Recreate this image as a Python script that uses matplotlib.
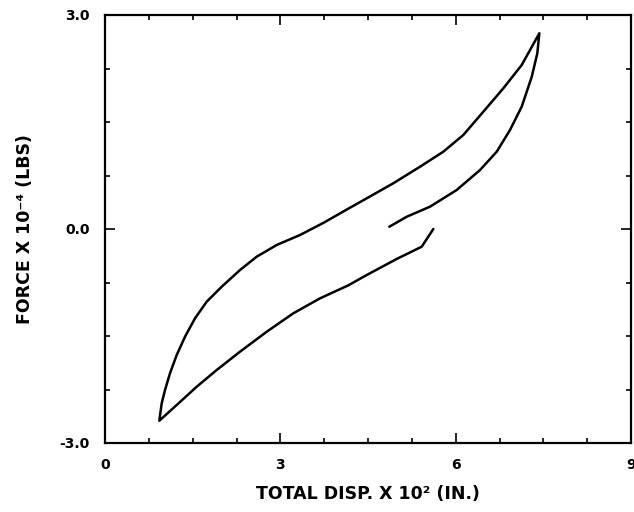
import matplotlib
matplotlib.use("Agg")
import matplotlib.pyplot as plt
from matplotlib.ticker import MultipleLocator, FixedLocator, FixedFormatter

plt.rcParams['axes.unicode_minus'] = False
plt.rcParams['font.family'] = ['DejaVu Sans']

# Hysteresis loop: total displacement (x 10^2 in.) vs force (x 10^-4 lbs)
disp = [5.618, 5.419, 4.991, 4.478, 4.163, 3.679, 3.222, 2.767, 2.310, 1.911,
        1.569, 1.227, 0.929,
        0.970, 1.027, 1.112, 1.227, 1.369, 1.540, 1.740, 1.997, 2.310, 2.596,
        2.938, 3.337, 3.735, 4.163, 4.478, 4.933, 5.390, 5.789, 6.131, 6.473,
        6.816, 7.130, 7.432,
        7.397, 7.302, 7.130, 6.930, 6.703, 6.417, 6.018, 5.561, 5.163, 4.865]
force = [0.000, -0.248, -0.420, -0.645, -0.790, -0.972, -1.182, -1.440, -1.720, -1.977,
         -2.211, -2.467, -2.688,
         -2.444, -2.257, -2.023, -1.766, -1.510, -1.252, -1.019, -0.809, -0.575, -0.388,
         -0.224, -0.084, 0.085, 0.285, 0.430, 0.641, 0.873, 1.084, 1.318, 1.644,
         1.973, 2.299, 2.744,
         2.463, 2.135, 1.715, 1.388, 1.084, 0.827, 0.547, 0.313, 0.172, 0.032]

x_ticks = [0, 3, 6, 9]
x_ticklabels = ["0", "3", "6", "9"]
y_ticks = [-3.0, 0.0, 3.0]
y_ticklabels = ["-3.0", "0.0", "3.0"]

fig = plt.figure(figsize=(6.34, 5.12), dpi=100)
ax = fig.add_axes([105/634, 1-443/512, (631-105)/634, (443-15)/512])

ax.plot(disp, force, color='black', lw=1.8, solid_joinstyle='round', solid_capstyle='round')

ax.set_xlim(0, 9)
ax.set_ylim(-3, 3)
ax.xaxis.set_major_locator(FixedLocator(x_ticks))
ax.xaxis.set_major_formatter(FixedFormatter(x_ticklabels))
ax.yaxis.set_major_locator(FixedLocator(y_ticks))
ax.yaxis.set_major_formatter(FixedFormatter(y_ticklabels))
ax.xaxis.set_minor_locator(MultipleLocator(0.75))
ax.yaxis.set_minor_locator(MultipleLocator(0.75))

ax.tick_params(which='both', direction='in', top=True, right=True, width=1.2)
ax.tick_params(which='major', length=7, pad=11, labelsize=10)
ax.tick_params(which='minor', length=3.5)
for lab in ax.get_xticklabels() + ax.get_yticklabels():
    lab.set_fontweight('bold')
for sp in ax.spines.values():
    sp.set_linewidth(1.6)

fig.text(368/634, 1-494/512, "TOTAL DISP. X 10² (IN.)", ha='center', va='center',
         fontsize=12.5, fontweight='bold')
fig.text(25/634, 1-229/512, "FORCE X 10⁻⁴ (LBS)", ha='center', va='center',
         rotation=90, fontsize=12.5, fontweight='bold')

fig.savefig("out.png", dpi=100)
